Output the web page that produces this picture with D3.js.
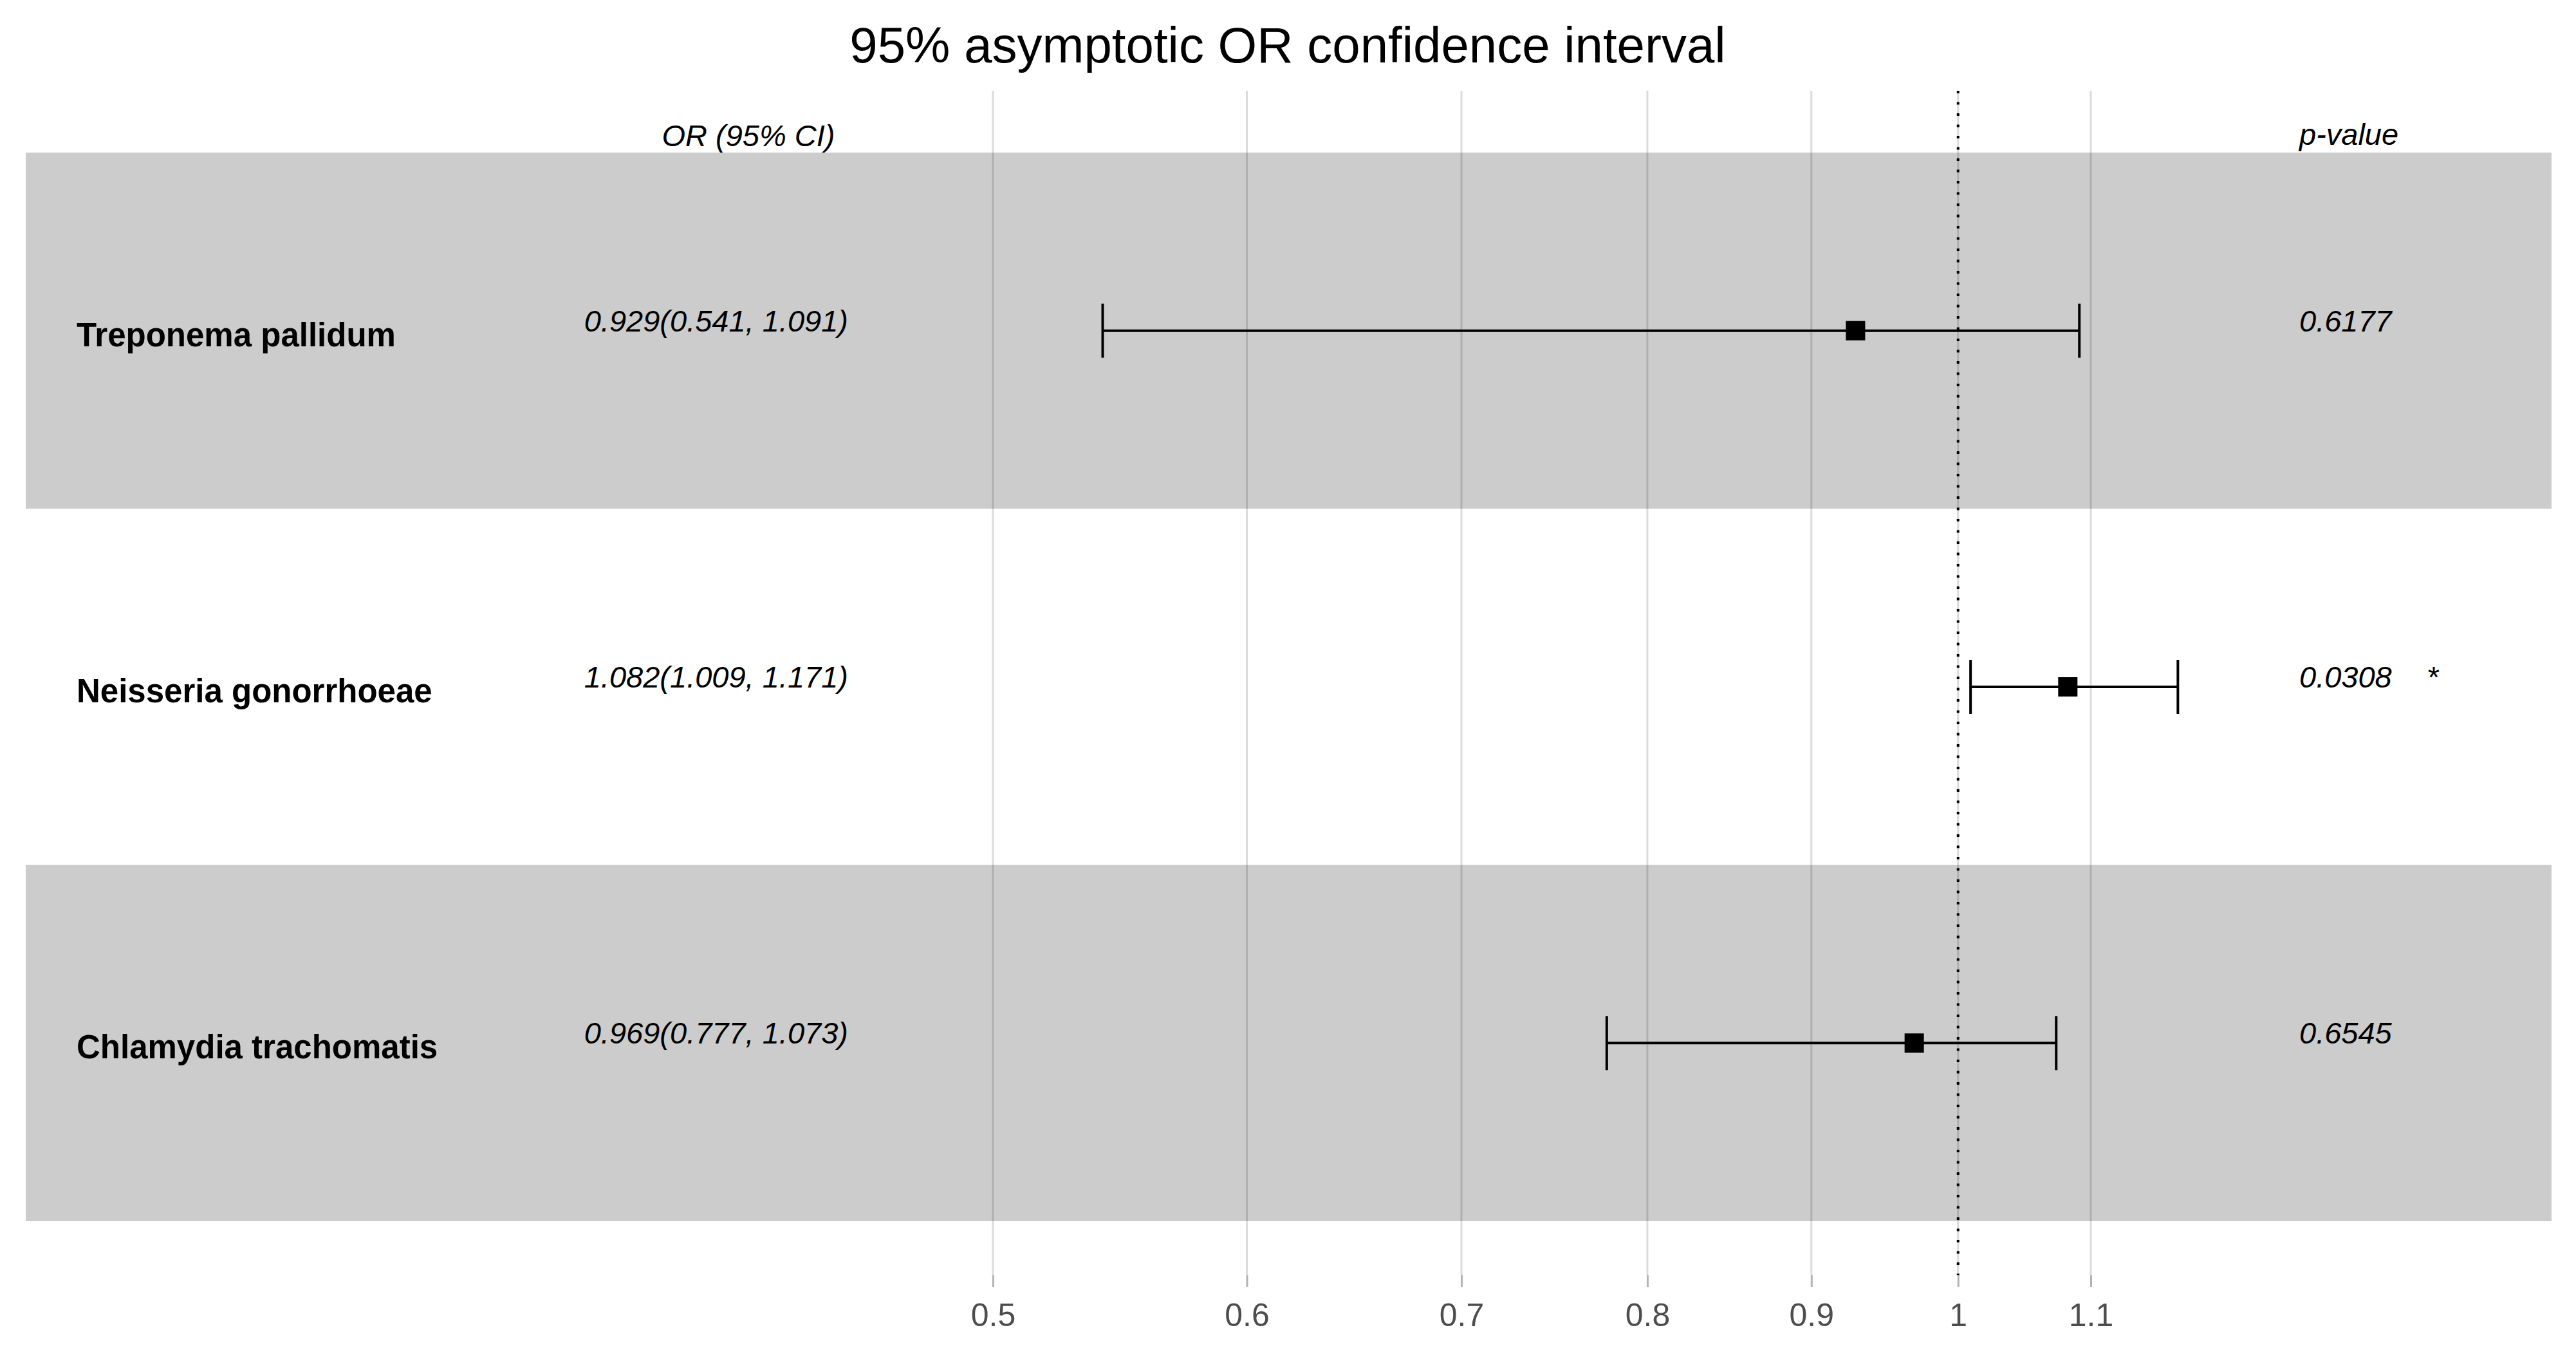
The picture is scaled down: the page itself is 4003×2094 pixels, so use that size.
<!DOCTYPE html>
<html>
<head>
<meta charset="utf-8">
<script src="https://cdn.jsdelivr.net/npm/d3@7"></script>
<style>
  html, body { margin: 0; padding: 0; background: #fff; }
  text { font-family: "Liberation Sans", Arial, sans-serif; }
</style>
</head>
<body>
<script>
// forest plot, odds ratios on a log axis
const labels   = ["Treponema pallidum", "Neisseria gonorrhoeae", "Chlamydia trachomatis"];
const orEst    = [0.929, 1.082, 0.969];
const ciLow    = [0.541, 1.009, 0.777];
const ciHigh   = [1.091, 1.171, 1.073];
const orText   = ["0.929(0.541, 1.091)", "1.082(1.009, 1.171)", "0.969(0.777, 1.073)"];
const pValues  = ["0.6177", "0.0308", "0.6545"];
const signif   = ["", "*", ""];
const xTicks   = [0.5, 0.6, 0.7, 0.8, 0.9, 1, 1.1];

const W = 4003, H = 2094;
const svg = d3.select("body").append("svg").attr("width", W).attr("height", H);

const x = d3.scaleLog().domain([0.5, 1.1]).range([1543, 3249]);
const y = d3.scaleBand().domain(labels).range([237, 1897]);
const gridTop = 141, axisY = 1981;

// shaded rows
svg.append("g").selectAll("rect")
  .data(labels.filter((d, i) => i % 2 === 0))
  .join("rect")
  .attr("x", 40).attr("width", 3925)
  .attr("y", d => y(d)).attr("height", y.bandwidth())
  .attr("fill", "#cccccc");

// vertical grid
svg.append("g").selectAll("line")
  .data(xTicks)
  .join("line")
  .attr("x1", d => x(d)).attr("x2", d => x(d))
  .attr("y1", gridTop).attr("y2", axisY)
  .attr("stroke", "#000").attr("stroke-opacity", 0.14).attr("stroke-width", 3);

// reference line at 1
svg.append("line")
  .attr("x1", x(1)).attr("x2", x(1))
  .attr("y1", gridTop).attr("y2", axisY)
  .attr("stroke", "#000").attr("stroke-width", 4)
  .attr("stroke-dasharray", "4 13.5");

// axis
const axis = svg.append("g")
  .attr("transform", `translate(0,${axisY})`)
  .call(d3.axisBottom(x).tickValues(xTicks).tickFormat(d3.format("")).tickSize(18).tickPadding(25));
axis.select(".domain").remove();
axis.selectAll(".tick line").attr("stroke", "#b3b3b3").attr("stroke-width", 3);
axis.selectAll(".tick text")
  .attr("fill", "#4d4d4d")
  .style("font-family", "'Liberation Sans', Arial, sans-serif")
  .style("font-size", "50px");

// error bars
const rows = svg.append("g").selectAll("g")
  .data(labels.map((d, i) => ({ label: d, i })))
  .join("g")
  .attr("transform", d => `translate(0,${y(d.label) + y.bandwidth() / 2})`);

rows.append("line")
  .attr("x1", d => x(ciLow[d.i])).attr("x2", d => x(ciHigh[d.i]))
  .attr("stroke", "#000").attr("stroke-width", 4);
rows.append("line")
  .attr("x1", d => x(ciLow[d.i])).attr("x2", d => x(ciLow[d.i]))
  .attr("y1", -42).attr("y2", 42)
  .attr("stroke", "#000").attr("stroke-width", 4);
rows.append("line")
  .attr("x1", d => x(ciHigh[d.i])).attr("x2", d => x(ciHigh[d.i]))
  .attr("y1", -42).attr("y2", 42)
  .attr("stroke", "#000").attr("stroke-width", 4);
rows.append("rect")
  .attr("x", d => x(orEst[d.i]) - 15).attr("y", -15)
  .attr("width", 30).attr("height", 30)
  .attr("fill", "#000");

// row texts
rows.append("text")
  .attr("x", 119).attr("y", 24)
  .attr("font-size", 51).attr("font-weight", "bold")
  .text(d => d.label);
rows.append("text")
  .attr("x", 1318).attr("y", 1)
  .attr("text-anchor", "end")
  .attr("font-size", 47).attr("font-style", "italic")
  .text(d => orText[d.i]);
rows.append("text")
  .attr("x", 3573).attr("y", 1)
  .attr("font-size", 47).attr("font-style", "italic")
  .text(d => pValues[d.i]);
rows.append("text")
  .attr("x", 3782).attr("y", 1)
  .attr("text-anchor", "middle")
  .attr("font-size", 47)
  .text(d => signif[d.i]);

// headers
svg.append("text")
  .attr("x", 1163).attr("y", 227)
  .attr("text-anchor", "middle")
  .attr("font-size", 47).attr("font-style", "italic")
  .text("OR (95% CI)");
svg.append("text")
  .attr("x", 3573).attr("y", 225)
  .attr("font-size", 47).attr("font-style", "italic")
  .text("p-value");

// title
svg.append("text")
  .attr("x", 2001).attr("y", 97)
  .attr("text-anchor", "middle")
  .attr("font-size", 78)
  .text("95% asymptotic OR confidence interval");
</script>
</body>
</html>
